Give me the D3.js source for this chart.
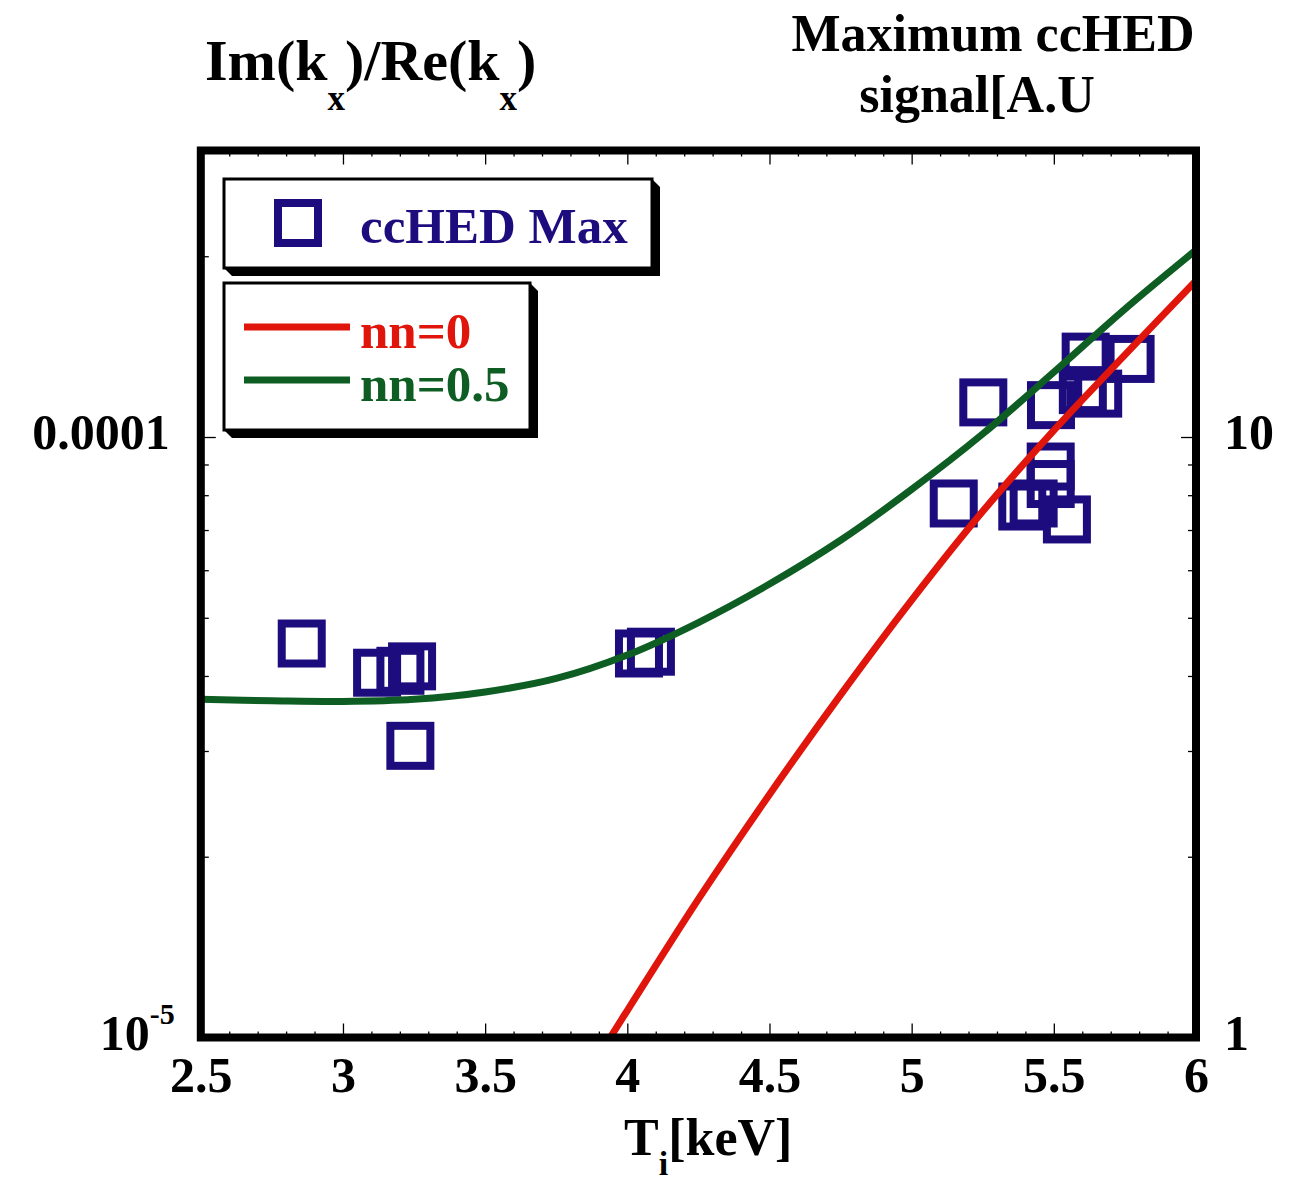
<!DOCTYPE html>
<html lang="en">
<head>
<meta charset="UTF-8">
<title>Im(kx)/Re(kx) and maximum ccHED signal vs Ti</title>
<script src="https://d3js.org/d3.v7.min.js"></script>
<style>
  body { margin: 0; background: #fff; }
  svg text { font-family: "Liberation Serif", "Times New Roman", serif; font-weight: bold; }
</style>
</head>
<body>
<svg width="1309" height="1182"></svg>
<script>
// nn=0.5 growth ratio curve (left axis)
const tempGreen  = [2.5, 2.75, 3.0, 3.25, 3.5, 3.75, 4.0, 4.25, 4.5, 4.75, 5.0, 5.25, 5.5, 5.75, 6.0];
const ratioGreen = [3.657e-5, 3.637e-5, 3.627e-5, 3.657e-5, 3.762e-5, 3.962e-5, 4.335e-5, 4.91e-5,
                    5.69e-5, 6.73e-5, 8.18e-5, 1.012e-4, 1.282e-4, 1.633e-4, 2.048e-4];

// nn=0 growth ratio curve (left axis)
const tempRed  = [3.94, 4.0, 4.25, 4.5, 4.75, 5.0, 5.25, 5.5, 5.75, 6.0];
const ratioRed = [1.0e-5, 1.109e-5, 1.70e-5, 2.54e-5, 3.72e-5, 5.35e-5, 7.52e-5, 1.026e-4, 1.37e-4, 1.821e-4];

// measured ccHED maximum (right axis)
const tempMax   = [2.855, 3.12, 3.202, 3.243, 3.237, 4.041, 4.083, 5.252, 5.612, 5.77,
                   5.49, 5.602, 5.656, 5.148, 5.489, 5.489, 5.389, 5.429, 5.546];
const signalMax = [4.53, 4.05, 4.08, 4.15, 3.06, 4.36, 4.39, 11.42, 13.61, 13.49,
                   11.3, 11.97, 11.81, 7.75, 8.93, 8.35, 7.66, 7.75, 7.29];

// tick labels
const xTicks = [2.5, 3, 3.5, 4, 4.5, 5, 5.5, 6];
const leftTicks = [1e-5, 1e-4];
const rightTicks = [1, 10];

const navy = "#1d0c7e", red = "#e0150b", green = "#0e5e24";

const svg = d3.select("svg");
const plotLeft = 200.8, plotRight = 1196, plotTop = 150.5, plotBottom = 1037.5;

const x = d3.scaleLinear().domain([2.5, 6]).range([plotLeft, plotRight]);
const yL = d3.scaleLog().domain([1e-5, 3e-4]).range([plotBottom, plotTop]);
const yR = d3.scaleLog().domain([1, 30]).range([plotBottom, plotTop]);

svg.append("clipPath").attr("id", "plot-clip")
  .append("rect").attr("x", plotLeft).attr("y", plotTop)
  .attr("width", plotRight - plotLeft).attr("height", plotBottom - plotTop);

// ---- axes (ticks point inward) ----
const minorX = d3.range(2.6, 6.0, 0.1).filter(v => Math.abs(v * 2 - Math.round(v * 2)) > 1e-6);
const minorL = yL.ticks().filter(v => !leftTicks.includes(v));
const minorR = yR.ticks().filter(v => !rightTicks.includes(v));

function styleAxis(g) {
  g.select(".domain").remove();
  g.selectAll(".tick line").attr("stroke", "#000").attr("stroke-width", 1.3);
}

// bottom
svg.append("g").attr("transform", `translate(0,${plotBottom})`)
  .call(d3.axisBottom(x).tickValues(minorX).tickSize(-6).tickFormat("")).call(styleAxis);
svg.append("g").attr("transform", `translate(0,${plotBottom})`)
  .call(d3.axisBottom(x).tickValues(xTicks).tickSize(-14).tickPadding(19).tickFormat(d => d))
  .call(styleAxis)
  .selectAll("text").attr("font-size", 50).attr("fill", "#000");
// top
svg.append("g").attr("transform", `translate(0,${plotTop})`)
  .call(d3.axisTop(x).tickValues(minorX).tickSize(-6).tickFormat("")).call(styleAxis);
svg.append("g").attr("transform", `translate(0,${plotTop})`)
  .call(d3.axisTop(x).tickValues(xTicks).tickSize(-14).tickFormat("")).call(styleAxis);

// left
svg.append("g").attr("transform", `translate(${plotLeft},0)`)
  .call(d3.axisLeft(yL).tickValues(minorL).tickSize(-8).tickFormat("")).call(styleAxis);
const leftAxis = svg.append("g").attr("transform", `translate(${plotLeft},0)`)
  .call(d3.axisLeft(yL).tickValues(leftTicks).tickSize(-15).tickPadding(31)
    .tickFormat(d => d === 1e-4 ? "0.0001" : "10"))
  .call(styleAxis);
leftAxis.selectAll("text").attr("font-size", 50).attr("fill", "#000").attr("dy", "0.23em")
  .each(function(d) {
    if (d === 1e-5) {
      d3.select(this).attr("x", -26)
        .append("tspan").attr("font-size", 30).attr("dy", -26).text("-5");
    }
  });

// right
svg.append("g").attr("transform", `translate(${plotRight},0)`)
  .call(d3.axisRight(yR).tickValues(minorR).tickSize(-8).tickFormat("")).call(styleAxis);
svg.append("g").attr("transform", `translate(${plotRight},0)`)
  .call(d3.axisRight(yR).tickValues(rightTicks).tickSize(-15).tickPadding(28).tickFormat(d => d))
  .call(styleAxis)
  .selectAll("text").attr("font-size", 50).attr("fill", "#000").attr("dy", "0.23em");

// ---- data ----
const sq = 40;
svg.append("g").selectAll("rect")
  .data(tempMax.map((t, i) => ({t, v: signalMax[i]})))
  .join("rect")
  .attr("x", d => x(d.t) - sq / 2).attr("y", d => yR(d.v) - sq / 2)
  .attr("width", sq).attr("height", sq)
  .attr("fill", "none").attr("stroke", navy).attr("stroke-width", 8);

const line = d3.line().x(d => x(d.t)).y(d => yL(d.v)).curve(d3.curveCatmullRom);
const curves = svg.append("g").attr("clip-path", "url(#plot-clip)");
curves.append("path")
  .datum(tempGreen.map((t, i) => ({t, v: ratioGreen[i]})))
  .attr("d", line).attr("fill", "none").attr("stroke", green).attr("stroke-width", 7);
curves.append("path")
  .datum(tempRed.map((t, i) => ({t, v: ratioRed[i]})))
  .attr("d", line).attr("fill", "none").attr("stroke", red).attr("stroke-width", 7);

// ---- frame ----
svg.append("rect").attr("x", plotLeft).attr("y", plotTop)
  .attr("width", plotRight - plotLeft).attr("height", plotBottom - plotTop)
  .attr("fill", "none").attr("stroke", "#000").attr("stroke-width", 8);

// ---- legends ----
function legendBox(bx, by, w, h) {
  const o = 8;
  svg.append("polygon")
    .attr("points", [[bx + w, by], [bx + w + o, by + o], [bx + w + o, by + h + o],
                     [bx + o, by + h + o], [bx, by + h]].join(" "))
    .attr("fill", "#000");
  svg.append("rect").attr("x", bx).attr("y", by).attr("width", w).attr("height", h)
    .attr("fill", "#fff").attr("stroke", "#000").attr("stroke-width", 3);
}

legendBox(224, 179, 428, 89);
svg.append("rect").attr("x", 298 - sq / 2).attr("y", 223 - sq / 2).attr("width", sq).attr("height", sq)
  .attr("fill", "none").attr("stroke", navy).attr("stroke-width", 8);
svg.append("text").attr("x", 360).attr("y", 243).attr("font-size", 51).attr("fill", navy).text("ccHED Max");

legendBox(224, 283, 306, 147);
const legendLines = [
  {label: "nn=0", color: red, y: 327},
  {label: "nn=0.5", color: green, y: 380}
];
legendLines.forEach(l => {
  svg.append("line").attr("x1", 244).attr("x2", 350).attr("y1", l.y).attr("y2", l.y)
    .attr("stroke", l.color).attr("stroke-width", 7);
  svg.append("text").attr("x", 360).attr("y", l.y + 21).attr("font-size", 51)
    .attr("fill", l.color).text(l.label);
});

// ---- titles ----
const t1 = svg.append("text").attr("x", 205).attr("y", 80).attr("font-size", 58).attr("fill", "#000");
t1.append("tspan").text("Im(k");
t1.append("tspan").attr("font-size", 35).attr("dy", 30).text("x");
t1.append("tspan").attr("dy", -30).text(")/Re(k");
t1.append("tspan").attr("font-size", 35).attr("dy", 30).text("x");
t1.append("tspan").attr("dy", -30).text(")");

svg.append("text").attr("x", 993).attr("y", 51).attr("text-anchor", "middle")
  .attr("font-size", 52).attr("fill", "#000").text("Maximum ccHED");
svg.append("text").attr("x", 977).attr("y", 112).attr("text-anchor", "middle")
  .attr("font-size", 52).attr("fill", "#000").text("signal[A.U");

const xl = svg.append("text").attr("x", 624).attr("y", 1155).attr("font-size", 52).attr("fill", "#000");
xl.append("tspan").text("T");
xl.append("tspan").attr("font-size", 34).attr("dy", 20).text("i");
xl.append("tspan").attr("dy", -20).text("[keV]");
</script>
</body>
</html>
